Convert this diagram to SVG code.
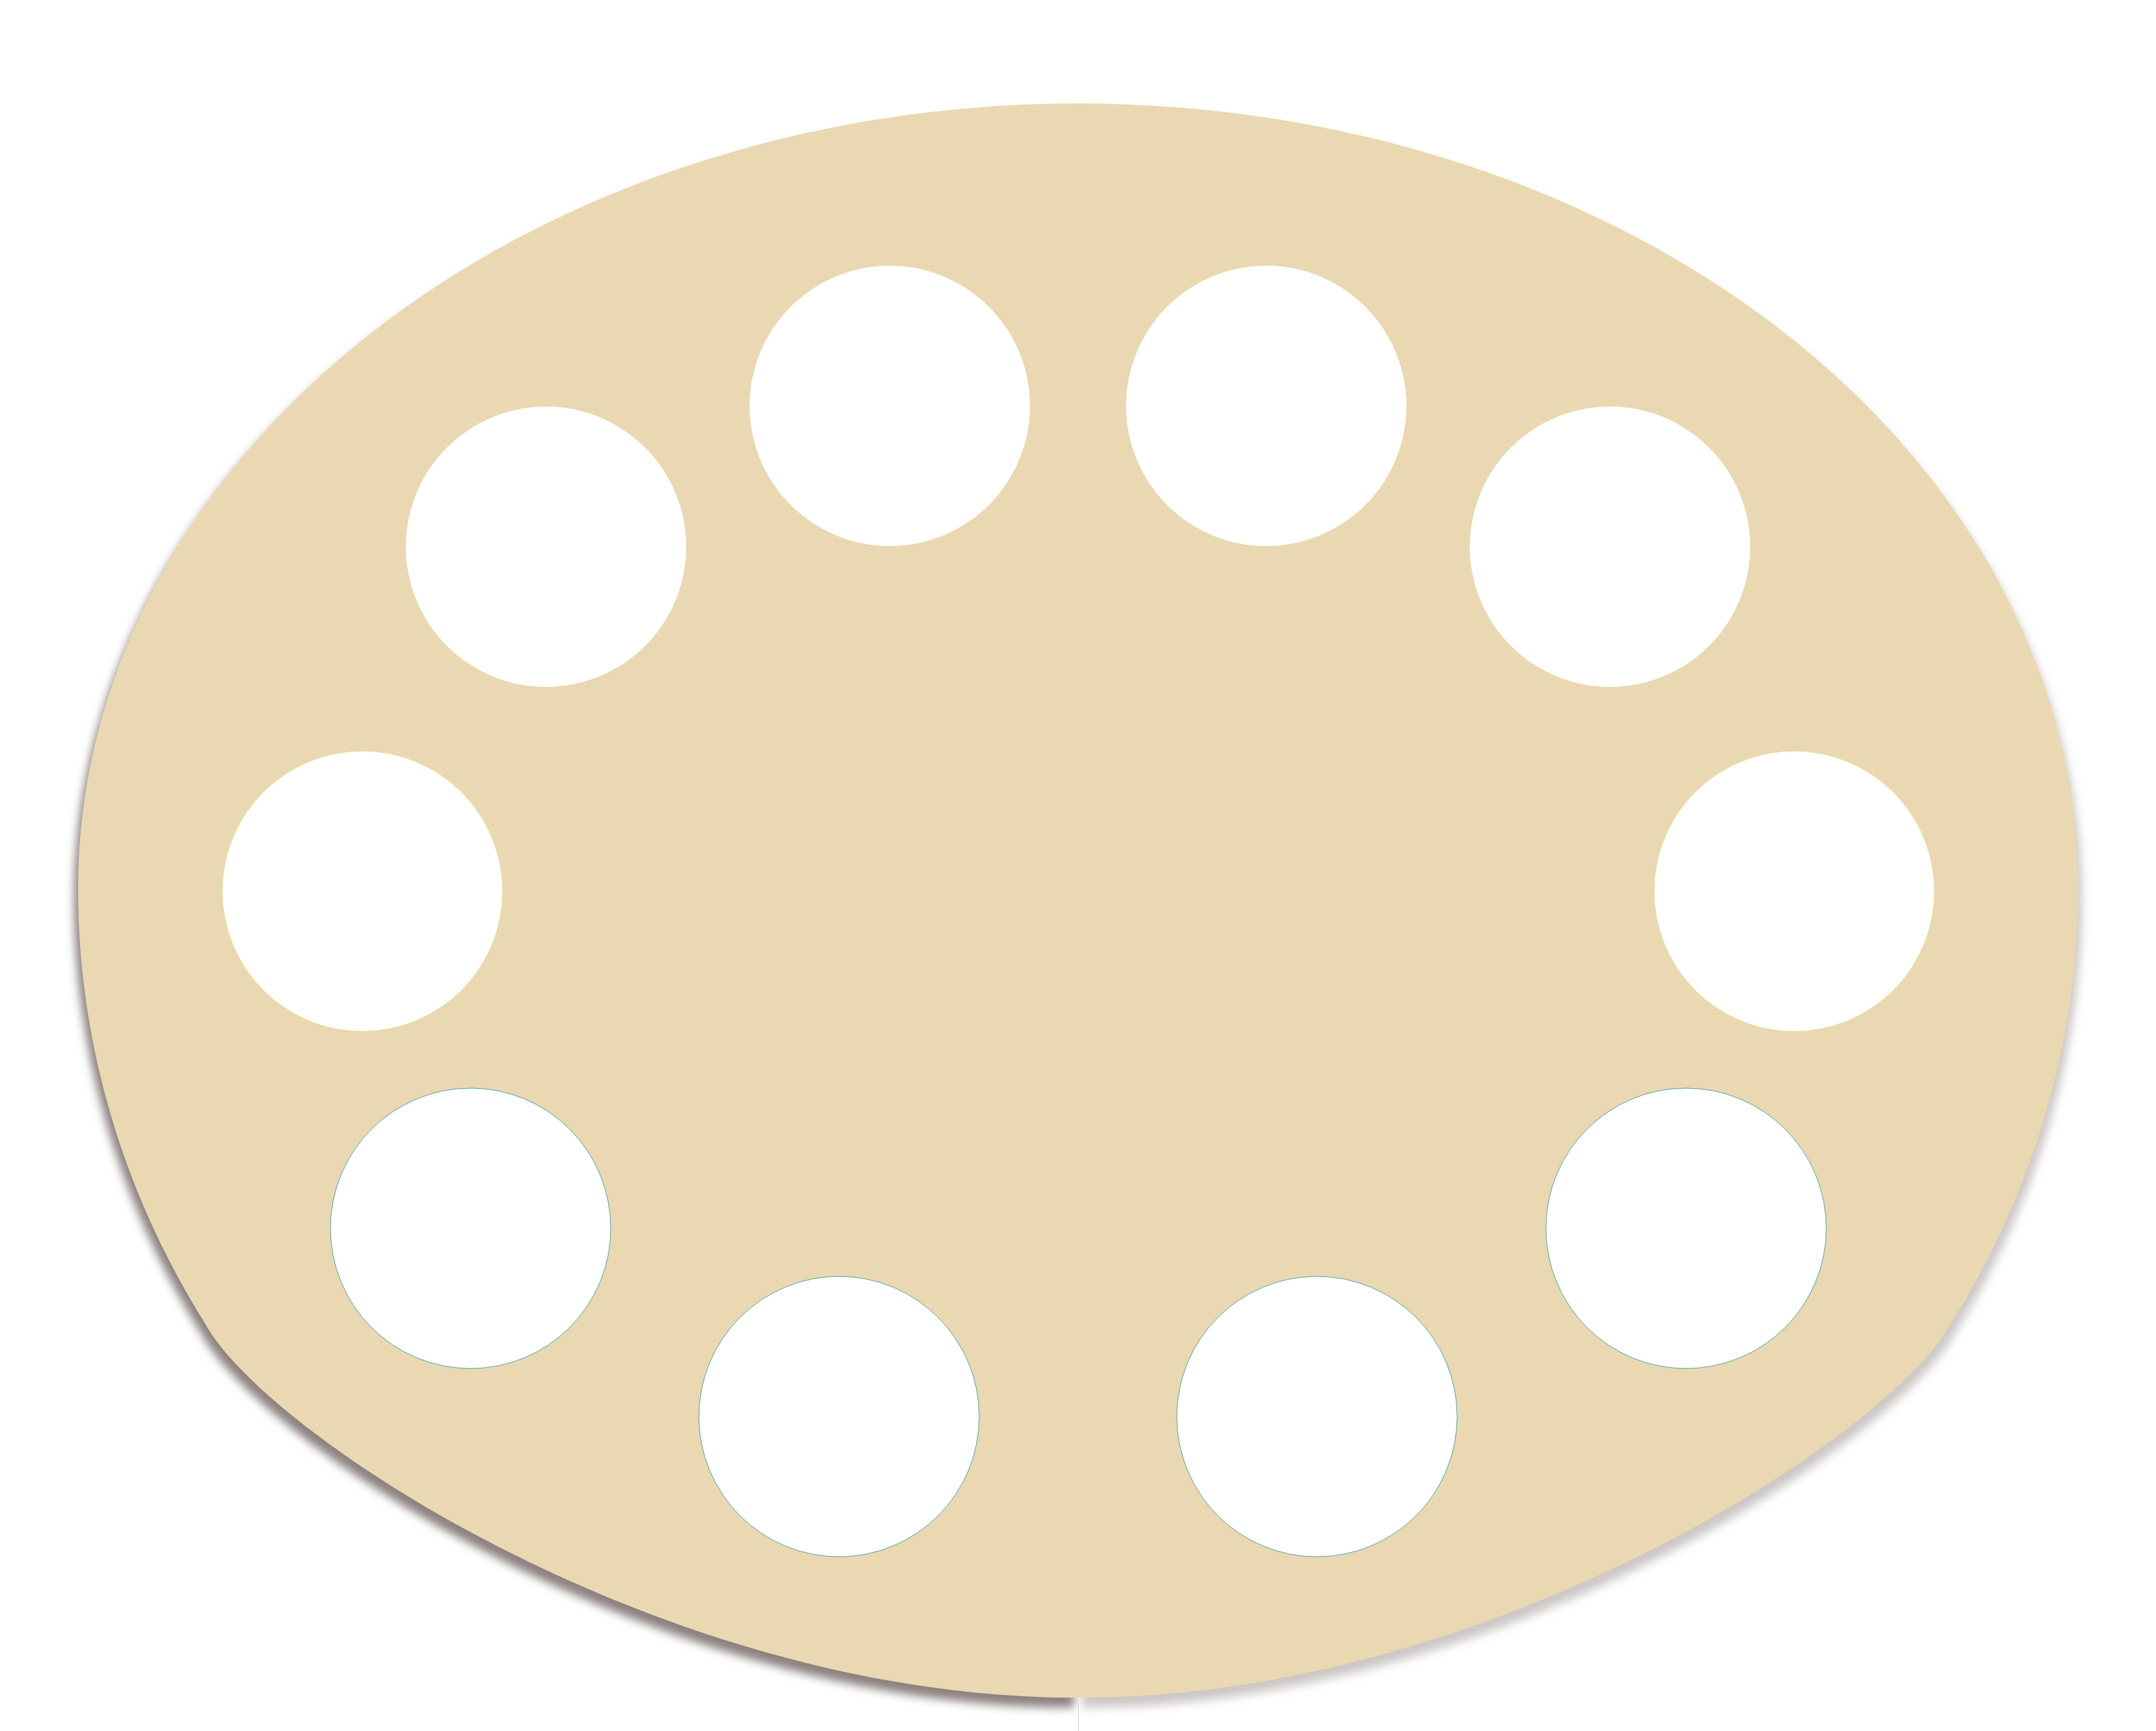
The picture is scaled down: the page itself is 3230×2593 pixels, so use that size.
<svg xmlns="http://www.w3.org/2000/svg" width="3230" height="2593" viewBox="0 0 3230 2593">
  <defs>
    <style>
      .body { fill: #e9d8b2; }
      .hole { fill: #ffffff; }
      .hole-teal { fill: #ffffff; stroke: #2a8f8c; stroke-width: 0.8; }
      .hole-gold { fill: #ffffff; stroke: #e2dc8a; stroke-width: 0.8; }
    </style>
    <filter id="blur" x="-10%" y="-10%" width="120%" height="120%">
      <feGaussianBlur stdDeviation="7"/>
    </filter>
    <clipPath id="clipLeft"><rect x="0" y="0" width="1615" height="2593"/></clipPath>
    <clipPath id="clipRight"><rect x="1615" y="0" width="1615" height="2593"/></clipPath>
    <path id="half" d="M 1615 155 A 1498 1175 0 0 0 117 1330 A 1498 1335 0 0 0 308 1984 C 400 2150 1000 2545 1615 2543 Z"/>
  </defs>
  <rect x="0" y="0" width="3230" height="2593" fill="#ffffff"/>

  <g id="left-half" clip-path="url(#clipLeft)">
    <use href="#half" fill="#8c8280" filter="url(#blur)" transform="translate(-6 15)"/>
    <use href="#half" class="body"/>
  </g>
  <g id="right-half" clip-path="url(#clipRight)">
    <use href="#half" fill="#ccc8c6" filter="url(#blur)" transform="translate(6 15) matrix(-1 0 0 1 3230 0)"/>
    <use href="#half" class="body" transform="matrix(-1 0 0 1 3230 0)"/>
  </g>
  <line id="seam" x1="1615.5" y1="2545" x2="1615.5" y2="2593" stroke="#d2d0cf" stroke-width="1"/>

  <g id="holes">
    <circle id="hole-1" class="hole" cx="1333" cy="608" r="210"/>
    <circle id="hole-2" class="hole" cx="1897" cy="608" r="210"/>
    <circle id="hole-3" class="hole" cx="818" cy="819" r="210"/>
    <circle id="hole-4" class="hole" cx="2412" cy="819" r="210"/>
    <circle id="hole-5" class="hole-gold" cx="543" cy="1335" r="210"/>
    <circle id="hole-6" class="hole-gold" cx="2688" cy="1335" r="210"/>
    <circle id="hole-7" class="hole-teal" cx="705" cy="1840" r="210"/>
    <circle id="hole-8" class="hole-teal" cx="2526" cy="1840" r="210"/>
    <circle id="hole-9" class="hole-teal" cx="1257" cy="2122" r="210"/>
    <circle id="hole-10" class="hole-teal" cx="1973" cy="2122" r="210"/>
  </g>
</svg>
